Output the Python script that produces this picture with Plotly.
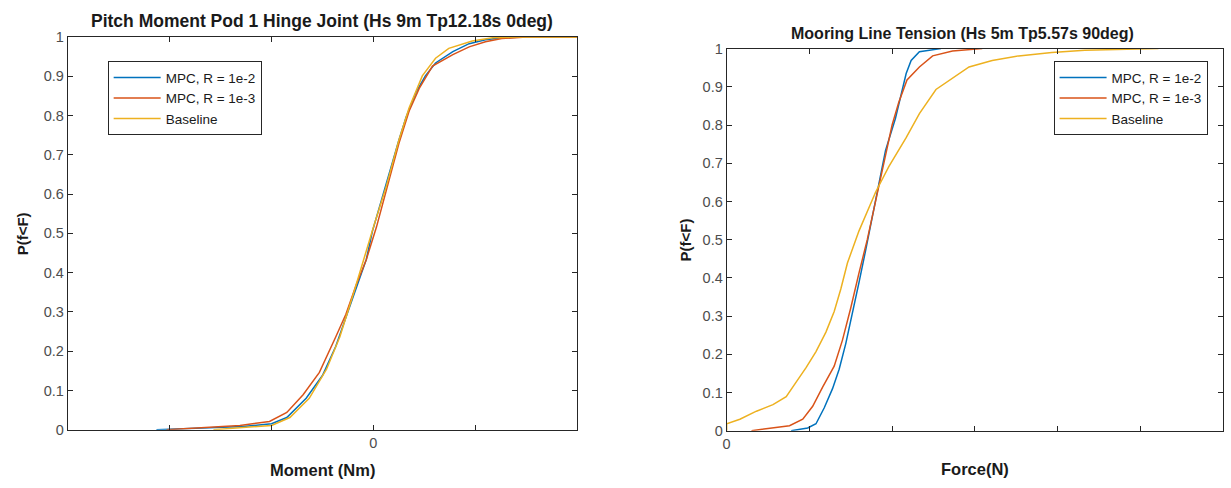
import plotly.graph_objects as go

# ---------------- data ----------------
# Left: Pitch Moment Pod 1 Hinge Joint — empirical CDFs
L_blue_x = [-2.13, -1.54, -1.28, -1.0, -0.85, -0.66, -0.50, -0.37, -0.27, -0.17, -0.07, -0.01,
            0.12, 0.25, 0.32, 0.42, 0.51, 0.61, 0.78, 0.94, 1.10, 1.26, 1.5, 2.0]
L_blue_y = [0.0, 0.005, 0.008, 0.015, 0.031, 0.08, 0.138, 0.212, 0.286, 0.36, 0.433, 0.505,
            0.622, 0.737, 0.795, 0.86, 0.901, 0.934, 0.963, 0.983, 0.993, 0.998, 1.0, 1.0]
L_red_x = [-2.03, -1.31, -1.02, -0.85, -0.69, -0.53, -0.37, -0.27, -0.17, -0.07, 0.03,
           0.12, 0.25, 0.35, 0.45, 0.58, 0.78, 0.94, 1.10, 1.26, 1.5, 2.0]
L_red_y = [0.0, 0.011, 0.021, 0.044, 0.089, 0.146, 0.236, 0.294, 0.368, 0.433, 0.516,
           0.606, 0.729, 0.811, 0.869, 0.926, 0.955, 0.975, 0.988, 0.996, 1.0, 1.0]
L_yel_x = [-1.57, -1.28, -1.0, -0.82, -0.63, -0.46, -0.33, -0.20, -0.04, 0.01,
           0.12, 0.25, 0.35, 0.48, 0.61, 0.74, 0.97, 1.17, 1.4, 2.0]
L_yel_y = [0.0, 0.005, 0.011, 0.031, 0.08, 0.154, 0.236, 0.343, 0.483, 0.524,
           0.614, 0.737, 0.819, 0.901, 0.946, 0.971, 0.99, 0.998, 1.0, 1.0]

# Right: Mooring Line Tension — empirical CDFs
R_blue_x = [0.78, 0.98, 1.08, 1.18, 1.28, 1.36, 1.44, 1.52, 1.60, 1.68, 1.78, 1.84, 1.92,
            2.04, 2.10, 2.17, 2.23, 2.33, 2.59]
R_blue_y = [0.0, 0.007, 0.018, 0.06, 0.11, 0.161, 0.228, 0.304, 0.388, 0.472, 0.582, 0.649, 0.733,
            0.817, 0.868, 0.935, 0.969, 0.992, 1.0]
R_red_x = [0.30, 0.52, 0.76, 0.92, 1.04, 1.16, 1.30, 1.40, 1.50, 1.60, 1.70, 1.80, 1.90,
           2.00, 2.08, 2.18, 2.33, 2.49, 2.73, 3.09]
R_red_y = [0.0, 0.007, 0.013, 0.03, 0.064, 0.114, 0.169, 0.237, 0.321, 0.413, 0.5, 0.6, 0.7,
           0.8, 0.859, 0.918, 0.952, 0.981, 0.994, 1.0]
R_yel_x = [0.0, 0.0, 0.16, 0.36, 0.56, 0.72, 0.84, 0.96, 1.08, 1.20, 1.30, 1.38, 1.46, 1.60,
           1.80, 1.96, 2.17, 2.33, 2.53, 2.73, 2.93, 3.21, 3.53, 3.93, 4.33, 5.22]
R_yel_y = [0.0, 0.018, 0.03, 0.051, 0.068, 0.089, 0.127, 0.165, 0.207, 0.258, 0.312, 0.371, 0.439, 0.523,
           0.624, 0.691, 0.767, 0.83, 0.893, 0.923, 0.952, 0.969, 0.981, 0.99, 0.996, 1.0]

series_names = ["MPC, R = 1e-2", "MPC, R = 1e-3", "Baseline"]
colors = ["#0072BD", "#D95319", "#EDB120"]

y_ticks = [0, 0.1, 0.2, 0.3, 0.4, 0.5, 0.6, 0.7, 0.8, 0.9, 1]
y_ticktext = ["0", "0.1", "0.2", "0.3", "0.4", "0.5", "0.6", "0.7", "0.8", "0.9", "1"]
L_xticks = [-2, -1, 0, 1]
L_xticktext = ["", "", "0", ""]
R_xticks = [0, 1, 2, 3, 4, 5]
R_xticktext = ["0", "", "", "", "", ""]

titles = ["Pitch Moment Pod 1 Hinge Joint (Hs 9m Tp12.18s 0deg)",
          "Mooring Line Tension (Hs 5m Tp5.57s 90deg)"]
xlabels = ["Moment (Nm)", "Force(N)"]
ylabel = "P(f<F)"

# ---------------- figure ----------------
W, H = 1231, 488
FONT = "Liberation Sans, Arial, sans-serif"
AX = "#262626"
TXT = "#1a1a1a"

fig = go.Figure()
left_data = [(L_blue_x, L_blue_y), (L_red_x, L_red_y), (L_yel_x, L_yel_y)]
right_data = [(R_blue_x, R_blue_y), (R_red_x, R_red_y), (R_yel_x, R_yel_y)]
for (xs, ys), name, c in zip(left_data, series_names, colors):
    fig.add_trace(go.Scatter(x=xs, y=ys, mode="lines", name=name,
                             line=dict(color=c, width=1.5), xaxis="x", yaxis="y",
                             legend="legend"))
for (xs, ys), name, c in zip(right_data, series_names, colors):
    fig.add_trace(go.Scatter(x=xs, y=ys, mode="lines", name=name,
                             line=dict(color=c, width=1.5), xaxis="x2", yaxis="y2",
                             legend="legend2"))

# pixel geometry of the two axes boxes
L_box = (64, 575, 30, 436)    # x0, x1, ytop, ybottom
R_box = (725, 1223, 42, 437)

def xd(px):
    return px / W

def yd(py):
    return 1 - py / H

common_axis = dict(showgrid=False, zeroline=False, showline=True, linecolor=AX, linewidth=1,
                   mirror="ticks", ticks="inside", ticklen=5, tickcolor=AX, tickwidth=1,
                   tickfont=dict(family=FONT, size=14.5, color="#4d4d4d"))

legend_common = dict(xanchor="left", yanchor="top", bgcolor="white", bordercolor=AX,
                     borderwidth=1, font=dict(family=FONT, size=13.5, color=TXT),
                     itemwidth=47, tracegroupgap=0)

fig.update_layout(
    width=W, height=H, margin=dict(l=0, r=0, t=0, b=0),
    paper_bgcolor="white", plot_bgcolor="white",
    font=dict(family=FONT, color=AX),
    xaxis=dict(domain=[xd(L_box[0]), xd(L_box[1])], range=[-3, 2], tickvals=L_xticks,
               ticktext=L_xticktext, anchor="y", **common_axis),
    yaxis=dict(domain=[yd(L_box[3]), yd(L_box[2])], range=[0, 1], tickvals=y_ticks,
               ticktext=y_ticktext, anchor="x", **common_axis),
    xaxis2=dict(domain=[xd(R_box[0]), xd(R_box[1])], range=[0, 6], tickvals=R_xticks,
                ticktext=R_xticktext, anchor="y2", **common_axis),
    yaxis2=dict(domain=[yd(R_box[3]), yd(R_box[2])], range=[0, 1], tickvals=y_ticks,
                ticktext=y_ticktext, anchor="x2", **common_axis),
    legend=dict(x=xd(104), y=yd(55), **legend_common),
    legend2=dict(x=xd(1053), y=yd(55), **legend_common),
    showlegend=True,
)

ann = []
# titles
ann.append(dict(text="<b>%s</b>" % titles[0], x=xd((L_box[0] + L_box[1]) / 2), y=yd(13),
                xref="paper", yref="paper", showarrow=False, xanchor="center", yanchor="middle",
                font=dict(family=FONT, size=17.5, color=TXT)))
ann.append(dict(text="<b>%s</b>" % titles[1], x=xd(962), y=yd(26),
                xref="paper", yref="paper", showarrow=False, xanchor="center", yanchor="middle",
                font=dict(family=FONT, size=16, color=TXT)))
# x labels
ann.append(dict(text="<b>%s</b>" % xlabels[0], x=xd((L_box[0] + L_box[1]) / 2), y=yd(478),
                xref="paper", yref="paper", showarrow=False, xanchor="center", yanchor="middle",
                font=dict(family=FONT, size=16.5, color=TXT)))
ann.append(dict(text="<b>%s</b>" % xlabels[1], x=xd((R_box[0] + R_box[1]) / 2), y=yd(477),
                xref="paper", yref="paper", showarrow=False, xanchor="center", yanchor="middle",
                font=dict(family=FONT, size=16.5, color=TXT)))
# y labels
ann.append(dict(text="<b>%s</b>" % ylabel, x=xd(18), y=yd((L_box[2] + L_box[3]) / 2),
                xref="paper", yref="paper", showarrow=False, xanchor="center", yanchor="middle",
                textangle=-90, font=dict(family=FONT, size=15, color=TXT)))
ann.append(dict(text="<b>%s</b>" % ylabel, x=xd(684), y=yd((R_box[2] + R_box[3]) / 2),
                xref="paper", yref="paper", showarrow=False, xanchor="center", yanchor="middle",
                textangle=-90, font=dict(family=FONT, size=15, color=TXT)))
fig.update_layout(annotations=ann)

fig.write_html("out.html")
